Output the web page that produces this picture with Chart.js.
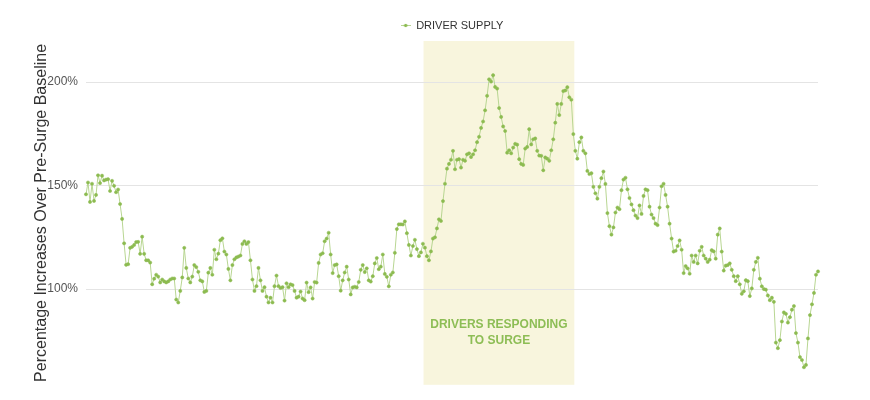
<!DOCTYPE html>
<html>
<head>
<meta charset="utf-8">
<script src="https://cdn.jsdelivr.net/npm/chart.js@4.4.1/dist/chart.umd.min.js"></script>
<style>
  html, body { margin: 0; padding: 0; background: #fff; overflow: hidden; }
  canvas { display: block; }
</style>
</head>
<body>
<canvas id="myChart"></canvas>
<script>
// driver supply as % of the pre-surge baseline, one reading per step
let supplyBefore = [
    145.8, 151.5, 142.1, 150.9, 142.6, 145.5, 155, 151.2, 154.8, 152.5, 152.9, 153.1, 147.4, 152.3, 149.9, 146.8, 148.1, 141.1, 133.9, 122.1,
    111.7, 112, 119.9, 120.4, 121.3, 122.7, 122.8, 117, 125.3, 117, 113.9, 113.9, 112.8, 102.3, 105, 106.9, 106,
    103.2, 104.6, 103.7, 103.2, 103.7, 104.6, 105.1, 105.1, 94.9, 93.5, 99.1, 105.6, 119.9, 110.2, 105.1, 103.2, 106, 111.6, 110.6, 108.3,
    104.2, 103.7, 98.6, 99.1, 107.9, 110.2, 106.9, 119, 114.4, 117.1, 123.6, 124.5, 118.1, 116.7, 109.7, 104.2, 111.6, 114.4, 115.3, 115.7,
    116.2, 121.8, 123.1, 121.8, 122.7, 113.9, 104.6, 99.1, 101.4, 110.2, 104.2, 99.1, 100.9, 96.3, 93.5, 95.8, 93.5, 101.4, 106.5, 101.4,
    100.5, 100.9, 94.4, 102.8, 100.9, 102.3, 101.9, 99.1, 95.8, 96.3
];
let supplyBuildUp = [
    98.8, 95.4, 94.6, 103.1, 98.5, 100.8, 95.4, 103.4, 103.1, 112.6, 116.7, 117.3, 123.1, 124.4, 127.2, 116.7, 107.7, 111.6, 111.9, 106.2,
    99.2, 104.2, 108, 110.8, 104.6, 97.4, 100.8, 101.1, 100.8, 103.4, 109.3, 111.6, 108.2, 110, 104.2, 103.6, 106.2, 112.4, 115, 109.6,
    110.8, 116.7, 107.3, 105.9, 101.3, 106.9, 108, 117.5, 129, 131.3, 131.3, 131.2, 132.7, 127, 121.3, 116.2, 120.8, 123.8, 119.3, 115.9,
    117.7, 121.9, 120, 115.9, 113.9, 118.2, 124.4, 125, 129.3, 133.7, 132.9, 142.5, 150.9, 158.2, 160.5, 162.5, 166.8, 157.9, 162.5, 162.8,
    158.7, 162.5, 162, 165.1
];
let supplySurge = [
    165.6, 163.8, 165.1, 167.1, 171, 173.6, 177.9, 181, 186.4, 193.4, 201.4, 200.3, 203.4, 197.7, 196.9, 187.5, 183.2, 178.6, 176.4, 165.9,
    167.1, 165.6, 168.4, 170.2, 169.8, 162.8, 160.5, 160, 167.9, 168.7, 177.3, 169.9, 172.4, 172.8, 166.8, 164.5, 164.4, 157.4, 163.6, 163,
    162, 167.1, 172.4, 180.4, 189.5, 184.1, 189.5, 195.7, 196, 197.6, 192.7, 191.5, 174.9, 166.8, 163, 171, 173.3, 166.8, 165.6, 157.1,
    155.6, 156, 149.4, 146.3, 143.7, 149.4, 153.6, 156.8, 150.8, 136.7, 130.4, 126.3, 129.8, 137, 139.4, 138.6, 147.8, 152.9, 153.8, 148.2,
    144, 140.9, 138.1
];
let supplyAfter = [
    135.5, 134.3, 140.4, 136.3, 145, 148.2, 147.8, 139.8, 136, 134.3, 131.6, 130.9, 139.4, 149.7, 150.9, 145.5, 139.8, 131.6, 124.4, 118.1,
    118.5, 120.8, 123.5, 119, 107.7, 111.1, 110, 107.4, 116.2, 113.1, 116.2, 112.4, 118.5, 120.4, 116.2, 114.7, 113.1, 114.2, 118.8, 118.2,
    114.7, 126.3, 129.3, 118.1, 108.9, 111.3, 111.6, 112.4, 109.3, 106.2, 103.8, 106.2, 102.3, 97.7, 98.9, 104.3, 103.8, 96.6, 100.3, 109.3,
    113.1, 115.1, 105, 101.3, 100, 99.7, 96.9, 94.6, 95.8, 93.8, 74.1, 71.4, 75.3, 84.3, 88.7, 88, 83.8, 86.4, 90, 91.8,
    78.7, 74.1, 67.1, 65.7, 62.2, 63.3, 76.1, 87.4, 92.6, 98.1, 106.9, 108.5
];
let yTicks = [100, 150, 200];
// the "drivers responding" window, as step positions
let surgeWindow = [168.3, 243.5];
let surgeText = ['DRIVERS RESPONDING', 'TO SURGE'];

let supply = supplyBefore.concat(supplyBuildUp, supplySurge, supplyAfter);
let steps = supply.map((v, i) => i);

let font = '"Liberation Sans", Arial, Helvetica, sans-serif';
let lineColor = '#b8d692';
let dotColor = '#8cbb50';

// the chart is cut off at the bottom of the window, so the axis runs
// past the last visible value; keep 100% and 200% at fixed heights
let canvas = document.getElementById('myChart');
canvas.width = window.innerWidth || 870;
canvas.height = window.innerHeight || 400;
let pxPerPoint = 2.16;
let yMax = 200 + (84 - 41) / pxPerPoint;
let yMin = 100 - (canvas.height - 300) / pxPerPoint;

// little line-and-dot marker for the legend
let legendMarker = document.createElement('canvas');
legendMarker.width = 10;
legendMarker.height = 5;
let mctx = legendMarker.getContext('2d');
mctx.strokeStyle = lineColor;
mctx.lineWidth = 1;
mctx.beginPath();
mctx.moveTo(0, 2.5);
mctx.lineTo(10, 2.5);
mctx.stroke();
mctx.fillStyle = dotColor;
mctx.beginPath();
mctx.arc(5, 2.5, 1.7, 0, Math.PI * 2);
mctx.fill();

let surgeBand = {
    id: 'surgeBand',
    beforeDraw(chart) {
        let {ctx, chartArea, scales} = chart;
        let x1 = scales.x.getPixelForValue(surgeWindow[0]);
        let x2 = scales.x.getPixelForValue(surgeWindow[1]);
        ctx.save();
        ctx.fillStyle = '#f8f5dd';
        ctx.fillRect(x1, chartArea.top, x2 - x1, chartArea.bottom - chartArea.top);
        ctx.fillStyle = '#8dbd55';
        ctx.font = 'bold 12px ' + font;
        ctx.textAlign = 'center';
        ctx.textBaseline = 'middle';
        let cx = (x1 + x2) / 2;
        ctx.fillText(surgeText[0], cx, scales.y.getPixelForValue(100) + 35.5);
        ctx.fillText(surgeText[1], cx, scales.y.getPixelForValue(100) + 52);
        ctx.restore();
    }
};

let chart = new Chart(canvas.getContext('2d'), {
    type: 'line',
    data: {
        labels: steps,
        datasets: [{
            label: 'DRIVER SUPPLY',
            data: supply,
            borderColor: lineColor,
            borderWidth: 1,
            backgroundColor: dotColor,
            pointBackgroundColor: dotColor,
            pointBorderColor: dotColor,
            pointBorderWidth: 0.5,
            pointRadius: 1.6,
            tension: 0,
            fill: false
        }]
    },
    options: {
        responsive: false,
        animation: false,
        devicePixelRatio: 1,
        layout: { padding: { top: 10, left: 28, right: 52, bottom: 0 } },
        plugins: {
            legend: {
                fullSize: false,
                labels: {
                    usePointStyle: true,
                    pointStyle: legendMarker,
                    boxWidth: 10,
                    padding: 10,
                    color: '#333',
                    font: { size: 11, family: font }
                }
            },
            tooltip: { enabled: false }
        },
        scales: {
            x: { display: false, offset: false },
            y: {
                min: yMin,
                max: yMax,
                afterBuildTicks: axis => { axis.ticks = yTicks.map(v => ({ value: v })); },
                afterFit: axis => { axis.width = 58; },
                border: { display: false },
                grid: { color: '#e4e4e4', drawTicks: false },
                ticks: {
                    padding: 8,
                    color: '#555',
                    font: { size: 12, family: font },
                    callback: v => v + '%'
                },
                title: {
                    display: true,
                    text: 'Percentage Increases Over Pre-Surge Baseline',
                    color: '#333',
                    font: { size: 16, family: font },
                    padding: { top: 4, bottom: 0 }
                }
            }
        }
    },
    plugins: [surgeBand]
});
</script>
</body>
</html>
